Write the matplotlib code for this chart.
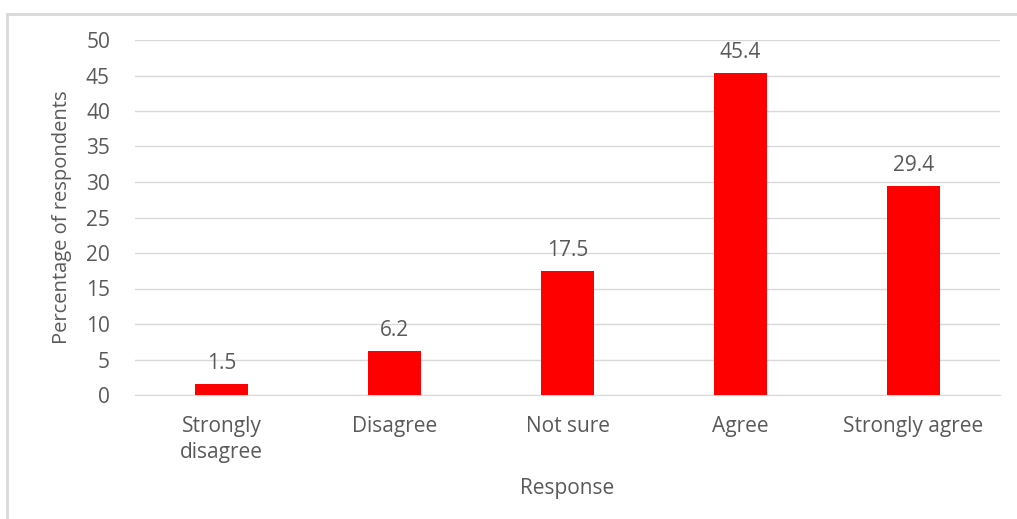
import matplotlib.pyplot as plt
from matplotlib.patches import Rectangle

responses = ['Strongly\ndisagree', 'Disagree', 'Not sure', 'Agree', 'Strongly agree']
percent = [1.5, 6.2, 17.5, 45.4, 29.4]
yticks = [0, 5, 10, 15, 20, 25, 30, 35, 40, 45, 50]

plt.rcParams['font.family'] = ['Open Sans', 'DejaVu Sans']
grey = '#595959'

fig = plt.figure(figsize=(10.17, 5.19), dpi=100)
ax = fig.add_axes([135 / 1017, 1 - 395 / 519, 865 / 1017, 355 / 519])

# outer chart frame (runs off right and bottom edge)
fig.patches.append(Rectangle((7 / 1017, -0.05), 1.1, 1 - 14 / 519 + 0.05,
                             transform=fig.transFigure, fill=False,
                             edgecolor='#d9d9d9', linewidth=2, zorder=0))

x = range(len(responses))
bars = ax.bar(x, percent, width=0.31, color='#ff0000', zorder=3)
for b, v in zip(bars, percent):
    ax.text(b.get_x() + b.get_width() / 2, v + 1.4, f'{v}', ha='center', va='bottom',
            fontsize=15, color=grey)

ax.set_xlim(-0.5, len(responses) - 0.5)
ax.set_ylim(0, 50)
ax.set_yticks(yticks)
ax.set_xticks(list(x))
ax.set_xticklabels(responses, fontsize=15, color=grey, linespacing=1.3)
ax.tick_params(axis='y', labelsize=15, labelcolor=grey, length=0, pad=18)
ax.tick_params(axis='x', length=0, pad=15)
for lbl in ax.get_xticklabels():
    lbl.set_verticalalignment('top')

ax.grid(axis='y', color='#d9d9d9', linewidth=1, zorder=0)
for s in ['top', 'right', 'left']:
    ax.spines[s].set_visible(False)
ax.spines['bottom'].set_color('#d9d9d9')

ax.set_xlabel('Response', fontsize=15, color=grey, labelpad=11)
ax.set_ylabel('Percentage of respondents', fontsize=14.5, color=grey, labelpad=10)

fig.savefig('out.png', dpi=100)
